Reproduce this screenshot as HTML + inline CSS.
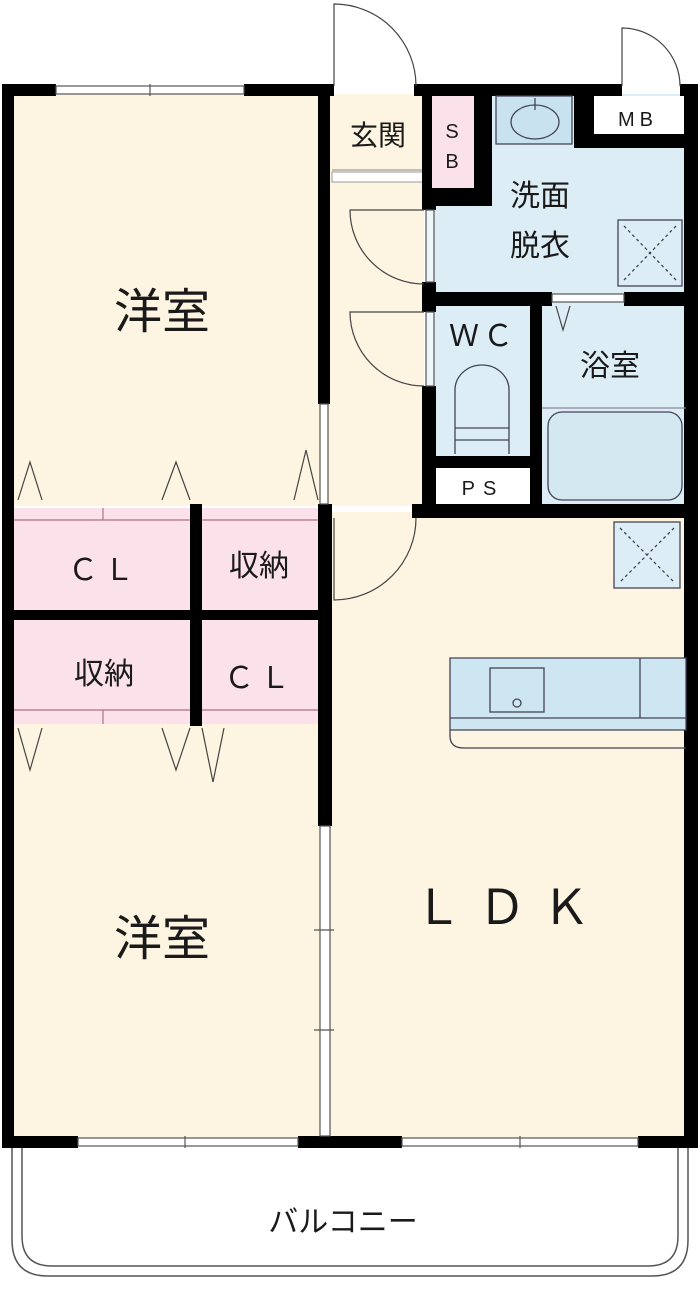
<!DOCTYPE html>
<html><head><meta charset="utf-8"><style>
html,body{margin:0;padding:0;background:#fff;width:700px;height:1290px;overflow:hidden}
svg{display:block}
text{font-family:"Liberation Sans","Noto Sans CJK JP",sans-serif;fill:#1a1a1a}
</style></head><body>
<svg width="700" height="1290" viewBox="0 0 700 1290" xmlns="http://www.w3.org/2000/svg">
<!-- balcony -->
<path d="M12 1146 V1240 Q12 1276 48 1276 H652 Q688 1276 688 1240 V1146" fill="#fff" stroke="#555" stroke-width="1.5"/>
<path d="M22 1146 V1236 Q22 1266 52 1266 H648 Q678 1266 678 1236 V1146" fill="none" stroke="#555" stroke-width="1.5"/>
<!-- room fills -->
<rect x="12" y="94" width="310" height="412" fill="#fdf4e1"/>
<rect x="12" y="724" width="310" height="414" fill="#fdf4e1"/>
<rect x="328" y="94" width="96" height="412" fill="#fdf4e1"/>
<rect x="328" y="512" width="360" height="626" fill="#fdf4e1"/>
<rect x="428" y="94" width="258" height="204" fill="#dcedf6"/>
<rect x="432" y="300" width="100" height="160" fill="#dcedf6"/>
<rect x="540" y="300" width="148" height="206" fill="#dcedf6"/>
<rect x="430" y="96" width="44" height="92" fill="#fbe1ea"/>
<rect x="14" y="508" width="178" height="104" fill="#fbe1ea"/>
<rect x="200" y="508" width="122" height="104" fill="#fbe1ea"/>
<rect x="14" y="618" width="178" height="106" fill="#fbe1ea"/>
<rect x="200" y="618" width="122" height="106" fill="#fbe1ea"/>
<!-- CL stripes -->
<g stroke="#b07080" stroke-width="1.2" fill="none">
<line x1="14" y1="520" x2="322" y2="520"/><line x1="14" y1="710" x2="322" y2="710"/>
<line x1="103" y1="508" x2="103" y2="520"/><line x1="103" y1="710" x2="103" y2="724"/>
</g>
<!-- genkan -->
<line x1="332" y1="170" x2="428" y2="170" stroke="#888" stroke-width="1"/>
<rect x="332" y="172" width="96" height="10" fill="#fff" stroke="#999" stroke-width="1"/>
<!-- MB / PS white -->
<rect x="594" y="96" width="92" height="38" fill="#fff"/>
<rect x="435" y="468" width="96" height="36" fill="#fff"/>
<!-- walls -->
<g fill="#000">
<rect x="2" y="84" width="12" height="1064"/>
<rect x="684" y="84" width="14" height="1064"/>
<rect x="2" y="84" width="54" height="12"/>
<rect x="244" y="84" width="90" height="12"/>
<rect x="414" y="84" width="208" height="12"/>
<rect x="680" y="84" width="18" height="12"/>
<rect x="318" y="84" width="12" height="320"/>
<rect x="422" y="96" width="10" height="98"/>
<rect x="474" y="96" width="18" height="110"/>
<rect x="422" y="188" width="60" height="18"/>
<rect x="422" y="188" width="14" height="22"/>
<rect x="422" y="282" width="14" height="30"/>
<rect x="422" y="386" width="14" height="132"/>
<rect x="574" y="96" width="20" height="52"/>
<rect x="574" y="134" width="112" height="14"/>
<rect x="422" y="292" width="130" height="14"/>
<rect x="624" y="292" width="64" height="14"/>
<rect x="530" y="300" width="12" height="218"/>
<rect x="422" y="456" width="116" height="12"/>
<rect x="412" y="504" width="286" height="14"/>
<rect x="318" y="504" width="14" height="322"/>
<rect x="190" y="504" width="12" height="222"/>
<rect x="2" y="610" width="328" height="10"/>
<rect x="2" y="1136" width="76" height="12"/>
<rect x="298" y="1136" width="104" height="12"/>
<rect x="638" y="1136" width="60" height="12"/>
</g>
<!-- windows -->
<g stroke="#555" stroke-width="1.2" fill="#fff">
<rect x="56" y="86" width="188" height="8"/>
<rect x="78" y="1138" width="220" height="8"/>
<rect x="402" y="1138" width="236" height="8"/>
<rect x="320" y="826" width="10" height="310"/>
<rect x="320" y="404" width="8" height="100"/>
<rect x="426" y="210" width="8" height="72" fill="#eef6fa"/>
<rect x="426" y="312" width="8" height="74" fill="#eef6fa"/>
<rect x="552" y="294" width="72" height="8"/>
</g>
<g stroke="#555" stroke-width="1.2">
<line x1="150" y1="84" x2="150" y2="96"/><line x1="185" y1="1136" x2="185" y2="1148"/><line x1="520" y1="1136" x2="520" y2="1148"/>
<line x1="314" y1="930" x2="334" y2="930"/><line x1="314" y1="1030" x2="334" y2="1030"/>
</g>
<!-- doors -->
<g fill="none" stroke="#444" stroke-width="1.2">
<path d="M334 86 V4 A82 82 0 0 1 416 86"/>
<path d="M622 86 V28 A58 58 0 0 1 680 86"/>
<path d="M424 210 H350 A74 74 0 0 0 424 284"/>
<path d="M424 312 H350 A74 74 0 0 0 424 386"/>
<path d="M334 518 V600 A82 82 0 0 0 416 518"/>
<path d="M556 306 L563 330 L570 306"/>
<path d="M18 500 L30 462 L42 500 M162 500 L176 462 L190 500 M294 500 L306 450 L318 500"/>
<path d="M18 728 L30 770 L42 728 M162 728 L176 770 L190 728 M202 728 L213 782 L224 728"/>
</g>
<!-- fixtures -->
<g fill="none" stroke="#445" stroke-width="1.3">
<rect x="496" y="96" width="76" height="48" fill="#c8e2ef"/>
<ellipse cx="535" cy="122" rx="24" ry="17"/>
<line x1="535" y1="98" x2="535" y2="110"/>
<rect x="618" y="220" width="64" height="66"/>
<path d="M624 226 L676 280 M676 226 L624 280" stroke-dasharray="3,3"/>
<rect x="614" y="522" width="66" height="66" fill="#dcedf6"/>
<path d="M620 528 L674 582 M674 528 L620 582" stroke-dasharray="3,3"/>
<path d="M455 454 V390 A27 25 0 0 1 509 390 V454"/>
<line x1="455" y1="428" x2="509" y2="428"/><line x1="455" y1="440" x2="509" y2="440"/>
<rect x="548" y="412" width="134" height="88" rx="14" fill="#d4e8f2"/>
<line x1="542" y1="408" x2="686" y2="408" stroke="#889"/>
<path d="M450 658 H686 V730 H450 Z" fill="#cde6f1"/>
<line x1="640" y1="658" x2="640" y2="718"/>
<line x1="450" y1="718" x2="686" y2="718"/>
<rect x="490" y="668" width="54" height="44"/>
<circle cx="517" cy="703" r="4"/>
<path d="M450 730 V736 Q450 748 464 748 H686"/>
</g>
<!-- labels -->
<g font-size="48" text-anchor="middle">
<text x="162" y="328">洋室</text>
<text x="162" y="955">洋室</text>
<text x="510" y="924" letter-spacing="16">ＬＤＫ</text>
</g>
<g font-size="30" text-anchor="middle">
<text x="104" y="580" letter-spacing="6">ＣＬ</text>
<text x="259" y="576">収納</text>
<text x="104" y="684">収納</text>
<text x="260" y="688" letter-spacing="6">ＣＬ</text>
<text x="540" y="206">洗面</text>
<text x="540" y="256">脱衣</text>
<text x="610" y="376">浴室</text>
<text x="483" y="346" letter-spacing="4">ＷＣ</text>
<text x="343" y="1232">バルコニー</text>
<text x="378" y="145" font-size="28">玄関</text>
</g>
<g font-size="20" text-anchor="middle">
<text x="452" y="138">S</text>
<text x="452" y="168">B</text>
<text x="638" y="126" letter-spacing="5">MB</text>
<text x="483" y="495" letter-spacing="8">PS</text>
</g>
</svg>
</body></html>
